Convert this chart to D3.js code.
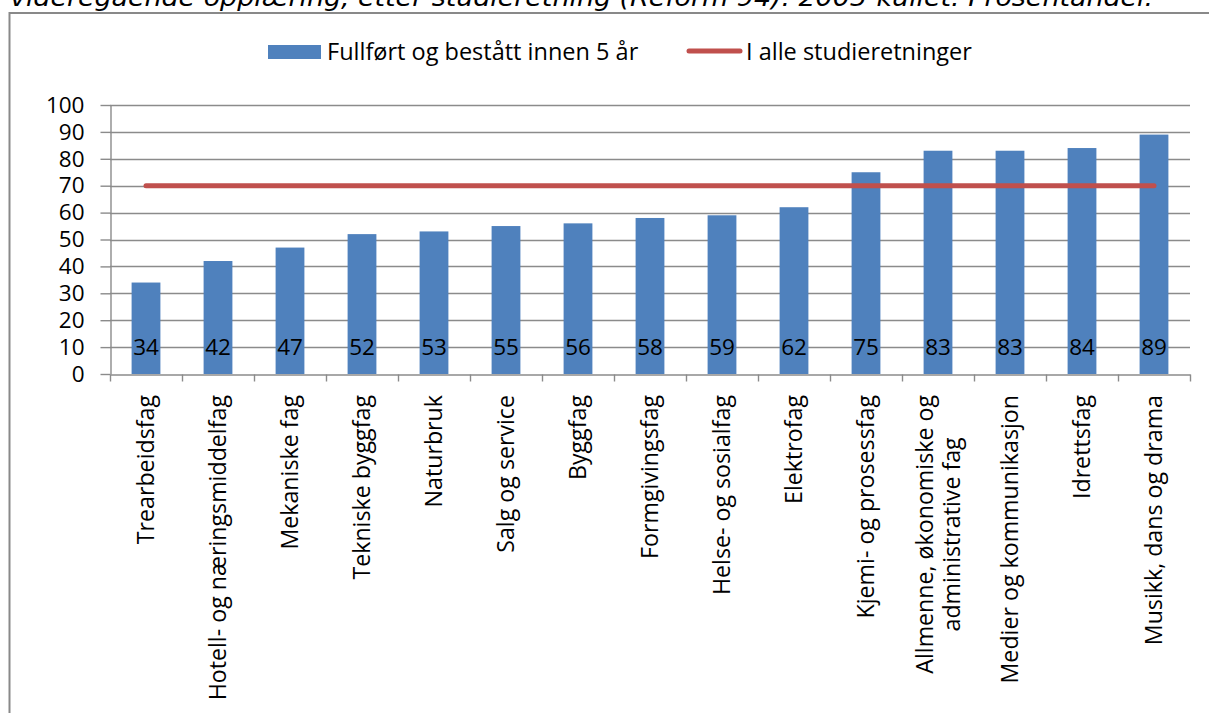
<!DOCTYPE html>
<html>
<head>
<meta charset="utf-8">
<script src="https://cdn.jsdelivr.net/npm/d3@7"></script>
<style>
    body { margin: 0; background: #fff; }
    svg { display: block; font-family: 'Open Sans', sans-serif; }
</style>
</head>
<body>
<div class="chart"></div>
<script>

//////////
// DATA //
//////////

var titleText = 'videregående opplæring, etter studieretning (Reform 94). 2005-kullet. Prosentandel.';

var categories = [
    'Trearbeidsfag',
    'Hotell- og næringsmiddelfag',
    'Mekaniske fag',
    'Tekniske byggfag',
    'Naturbruk',
    'Salg og service',
    'Byggfag',
    'Formgivingsfag',
    'Helse- og sosialfag',
    'Elektrofag',
    'Kjemi- og prosessfag',
    'Allmenne, økonomiske og\nadministrative fag',
    'Medier og kommunikasjon',
    'Idrettsfag',
    'Musikk, dans og drama'
];

var completed = [34, 42, 47, 52, 53, 55, 56, 58, 59, 62, 75, 83, 83, 84, 89];

var allPrograms = [70, 70, 70, 70, 70, 70, 70, 70, 70, 70, 70, 70, 70, 70, 70];

var seriesNames = ['Fullført og bestått innen 5 år', 'I alle studieretninger'];

var yTicks = [0, 10, 20, 30, 40, 50, 60, 70, 80, 90, 100];

/////////////////////
// INTIAL SETTINGS //
/////////////////////

var w = 1209,
    h = 713;

var plot = { left: 110, right: 1190, top: 105, bottom: 374 };

var barColor = '#4f81bd',
    lineColor = '#c0504d',
    gridColor = '#8b8b8b',
    legendSize = 23.5,    // legend text
    catSize = 23.2,       // category labels
    numSize = 22.5;       // tick values + data labels

var svg = d3.select('.chart')
    .append('svg')
    .attr('width', w)
    .attr('height', h);

////////////
// SCALES //
////////////

// excel gap width 150% -> bar is 40% of the category step
var xScale = d3.scaleBand()
    .domain(categories)
    .range([plot.left, plot.right])
    .paddingInner(0.6)
    .paddingOuter(0.3);

var xEdge = d3.scaleLinear()
    .domain([0, categories.length])
    .range([plot.left, plot.right]);

var yScale = d3.scaleLinear()
    .domain([0, 100])
    .range([plot.bottom, plot.top]);

function center(d) { return xScale(d) + xScale.bandwidth() / 2; }

///////////
// TITLE //
///////////

// only the bottom of the title is visible above the frame
svg.append('text')
    .attr('x', 10)
    .attr('y', 6)
    .attr('textLength', 1143)
    .attr('lengthAdjust', 'spacingAndGlyphs')
    .style('font-family', "'DejaVu Sans', sans-serif")
    .style('font-style', 'italic')
    .style('font-size', '24px')
    .text(titleText);

// chart frame
svg.append('path')
    .attr('d', 'M9.5,' + h + 'V13H' + w)
    .attr('fill', 'none')
    .attr('stroke', '#898989')
    .attr('stroke-width', 2);

///////////////
// GRIDLINES //
///////////////

svg.append('g')
    .selectAll('line')
    .data(yTicks.filter(function(d) { return d > 0; }))
    .enter()
    .append('line')
    .attr('x1', plot.left)
    .attr('x2', plot.right)
    .attr('y1', function(d) { return Math.round(yScale(d)) + 0.5; })
    .attr('y2', function(d) { return Math.round(yScale(d)) + 0.5; })
    .attr('stroke', gridColor)
    .attr('stroke-width', 1.4);

//////////
// AXIS //
//////////

var yAxis = d3.axisLeft(yScale)
    .tickValues(yTicks)
    .tickSize(10)
    .tickSizeOuter(0)
    .tickPadding(16);

var yG = svg.append('g')
    .attr('transform', 'translate(' + (plot.left + 0.5) + ',0)')
    .call(yAxis);

yG.selectAll('line, path').attr('stroke', gridColor).attr('stroke-width', 1.4);
yG.selectAll('text')
    .style('font-family', "'Open Sans', sans-serif")
    .style('font-size', numSize + 'px')
    .attr('fill', '#000');

var xAxis = d3.axisBottom(xEdge)
    .tickValues(d3.range(categories.length + 1))
    .tickSize(7)
    .tickSizeOuter(0)
    .tickFormat('');

var xG = svg.append('g')
    .attr('transform', 'translate(0,' + (Math.round(yScale(0)) + 0.5) + ')')
    .call(xAxis);

xG.selectAll('line, path').attr('stroke', gridColor).attr('stroke-width', 1.4);

//////////
// BARS //
//////////

svg.append('g')
    .selectAll('.bar')
    .data(completed)
    .enter()
    .append('rect')
    .attr('class', 'bar')
    .attr('x', function(d, i) { return xScale(categories[i]); })
    .attr('y', function(d) { return yScale(d); })
    .attr('width', xScale.bandwidth())
    .attr('height', function(d) { return yScale(0) - yScale(d); })
    .attr('fill', barColor);

// data labels, inside base
svg.append('g')
    .selectAll('text')
    .data(completed)
    .enter()
    .append('text')
    .attr('x', function(d, i) { return center(categories[i]); })
    .attr('y', yScale(0) - 19)
    .attr('text-anchor', 'middle')
    .style('font-size', numSize + 'px')
    .text(function(d) { return d; });

//////////
// LINE //
//////////

var line = d3.line()
    .x(function(d, i) { return center(categories[i]); })
    .y(function(d) { return yScale(d); });

svg.append('path')
    .datum(allPrograms)
    .attr('d', line)
    .attr('fill', 'none')
    .attr('stroke', lineColor)
    .attr('stroke-width', 5)
    .attr('stroke-linecap', 'round');

/////////////////////
// AXIS CATEGORIES //
/////////////////////

var labelTop = 395,
    lineHeight = 27;

var catLabels = svg.append('g')
    .selectAll('text')
    .data(categories)
    .enter()
    .append('text')
    .attr('transform', function(d) {
        return 'translate(' + center(d) + ',' + labelTop + ') rotate(-90)';
    })
    .style('font-size', catSize + 'px');

catLabels.each(function(d) {
    var parts = d.split('\n'),
        t = d3.select(this);

    if (parts.length === 1) {
        t.attr('text-anchor', 'end')
            .attr('dy', '0.35em')
            .text(d);
        return;
    }

    // multi-line labels are centred on each other
    var spans = parts.map(function(p, i) {
        return t.append('tspan')
            .attr('text-anchor', 'middle')
            .attr('y', (i - (parts.length - 1) / 2) * lineHeight + catSize * 0.35)
            .text(p);
    });
    var maxLen = d3.max(spans, function(s) { return s.node().getComputedTextLength(); });
    spans.forEach(function(s) { s.attr('x', -maxLen / 2); });
});

////////////
// LEGEND //
////////////

var legendY = 52;

svg.append('rect')
    .attr('x', 268)
    .attr('y', legendY - 7)
    .attr('width', 53)
    .attr('height', 14)
    .attr('fill', barColor);

svg.append('text')
    .attr('x', 327)
    .attr('y', legendY + 8)
    .style('font-size', legendSize + 'px')
    .text(seriesNames[0]);

svg.append('line')
    .attr('x1', 689)
    .attr('x2', 740)
    .attr('y1', legendY - 1)
    .attr('y2', legendY - 1)
    .attr('stroke', lineColor)
    .attr('stroke-width', 5)
    .attr('stroke-linecap', 'round');

svg.append('text')
    .attr('x', 746)
    .attr('y', legendY + 8)
    .style('font-size', legendSize + 'px')
    .text(seriesNames[1]);

</script>
</body>
</html>
